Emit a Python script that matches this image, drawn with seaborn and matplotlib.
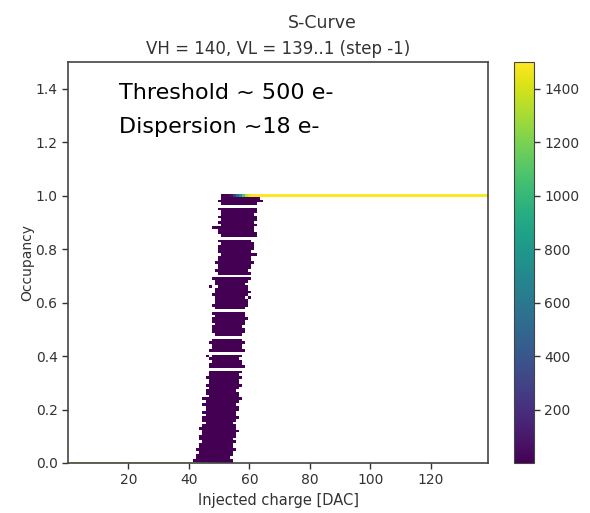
import numpy as np
import pandas as pd
import matplotlib
matplotlib.use("Agg")
import matplotlib.pyplot as plt
import seaborn as sns

# ---- data -------------------------------------------------------------
# injected charge axis (DAC units), one bin per DAC step
charge_min, charge_max = 1, 139

# number of pixels sitting at occupancy 0 for each charge from 42 upwards
# (all pixels are at 0 below that)
zero_row_start = 42
zero_row_counts = [1400, 1150, 900, 650, 450, 300, 180, 100, 60, 30, 15, 8, 3]
zero_row_full = 1500

# number of pixels at occupancy 1.0 for each charge from 51 upwards
# (all pixels are fully efficient above that)
full_row_start = 51
full_row_counts = [5, 10, 20, 60, 250, 550, 800, 1100, 1350, 1450, 1490]
full_row_full = 1500

# transition band: occupancy levels 0.01 .. 0.99, first / last charge bin filled
band_occupancy = [round(0.01 * k, 2) for k in range(1, 100)]
band_left = [
    42, 43, 43, 44, 43, 44, 44, 45, 44, 44,
    45, 45, 44, 45, 46, 45, 45, 46, 45, 46,
    46, 45, 46, 46, 47, 46, 46, 47, 46, 47,
    47, 46, 47, 47, 48, 47, 47, 48, 47, 48,
    48, 47, 48, 48, 47, 48, 48, 49, 48, 48,
    48, 49, 48, 48, 49, 48, 49, 49, 48, 49,
    49, 49, 48, 49, 49, 50, 49, 49, 48, 49,
    50, 49, 50, 50, 49, 50, 50, 51, 50, 50,
    50, 51, 50, 50, 51, 50, 50, 49, 51, 50,
    51, 50, 51, 51, 50, 51, 51, 50, 51,
]
band_right = [
    54, 53, 54, 54, 55, 54, 54, 55, 54, 55,
    55, 56, 55, 55, 54, 55, 56, 55, 55, 56,
    56, 55, 56, 57, 56, 56, 55, 56, 57, 56,
    56, 57, 56, 57, 57, 58, 57, 57, 56, 57,
    57, 58, 57, 57, 58, 57, 58, 57, 58, 58,
    57, 58, 58, 59, 58, 58, 59, 58, 59, 59,
    59, 58, 59, 60, 59, 59, 58, 59, 60, 59,
    60, 59, 60, 60, 61, 60, 60, 61, 60, 61,
    61, 61, 60, 61, 62, 62, 61, 61, 62, 61,
    62, 62, 61, 62, 62, 61, 62, 63, 63,
]
band_count = 6
# occupancy levels that no pixel reaches
empty_occupancy = [0.35, 0.41, 0.47, 0.57, 0.70, 0.84, 0.96]
# isolated cells just outside the band
speck_charge = [46, 45, 58, 47, 60, 52, 62, 48, 64]
speck_occupancy = [0.40, 0.24, 0.36, 0.66, 0.62, 0.80, 0.78, 0.88, 0.98]
speck_count = 2

# ---- assemble histogram cells ----------------------------------------
rows = []
for c in range(charge_min, charge_max + 1):
    if c < zero_row_start:
        rows.append((c, 0.0, zero_row_full))
    elif c - zero_row_start < len(zero_row_counts):
        rows.append((c, 0.0, zero_row_counts[c - zero_row_start]))
    if c >= full_row_start:
        i = c - full_row_start
        n = full_row_counts[i] if i < len(full_row_counts) else full_row_full
        rows.append((c, 1.0, n))
for occ, lo, hi in zip(band_occupancy, band_left, band_right):
    if occ in empty_occupancy:
        continue
    for c in range(lo, hi + 1):
        rows.append((c, occ, band_count))
for c, occ in zip(speck_charge, speck_occupancy):
    rows.append((c, occ, speck_count))
cells = pd.DataFrame(rows, columns=["charge", "occupancy", "pixels"])

x_edges = np.arange(charge_min - 0.5, charge_max + 1.0, 1.0)
y_edges = np.arange(-0.005, 1.5, 0.01)

# ---- figure ------------------------------------------------------------
sns.set_style("ticks")
plt.rcParams["font.family"] = ["DejaVu Sans"]
fig = plt.figure(figsize=(5.9, 5.13), dpi=100)
ax = fig.add_axes([0.1153, 0.0975, 0.7119, 0.7817])
cax = fig.add_axes([0.8712, 0.0975, 0.0331, 0.7817])

sns.histplot(
    data=cells, x="charge", y="occupancy", weights="pixels",
    bins=(x_edges, y_edges), cmap="viridis", vmin=1, vmax=1500,
    cbar=True, cbar_ax=cax, ax=ax,
)

text_col = "#333333"
ax.set_xlim(0, charge_max)
ax.set_ylim(0, 1.5)
ax.set_xticks([20, 40, 60, 80, 100, 120])
ax.set_yticks(np.arange(0, 1.41, 0.2))
ax.set_xlabel("Injected charge [DAC]", fontsize=10.5, color=text_col, labelpad=4)
ax.set_ylabel("Occupancy", fontsize=10, color=text_col, labelpad=1)
ax.tick_params(labelsize=10, colors=text_col, length=4, width=1)
for s in ax.spines.values():
    s.set_visible(True)
    s.set_color("#444444")
    s.set_linewidth(1.2)
ax.set_title("VH = 140, VL = 139..1 (step -1)", fontsize=12, color=text_col, pad=6)
fig.text(0.546, 0.955, "S-Curve", fontsize=12.5, color=text_col, ha="center", va="center")

cax.tick_params(labelsize=10, colors=text_col, length=4, width=1)
cax.set_ylabel("Pixels / bin", fontsize=10, color=text_col, labelpad=12)
for s in cax.spines.values():
    s.set_color("#444444")

fig.text(0.2017, 0.8187, "Threshold ~ 500 e-", fontsize=16, color="black",
         ha="left", va="center")
fig.text(0.2017, 0.7524, "Dispersion ~18 e-", fontsize=16, color="black",
         ha="left", va="center")

fig.savefig("out.png", dpi=100)
